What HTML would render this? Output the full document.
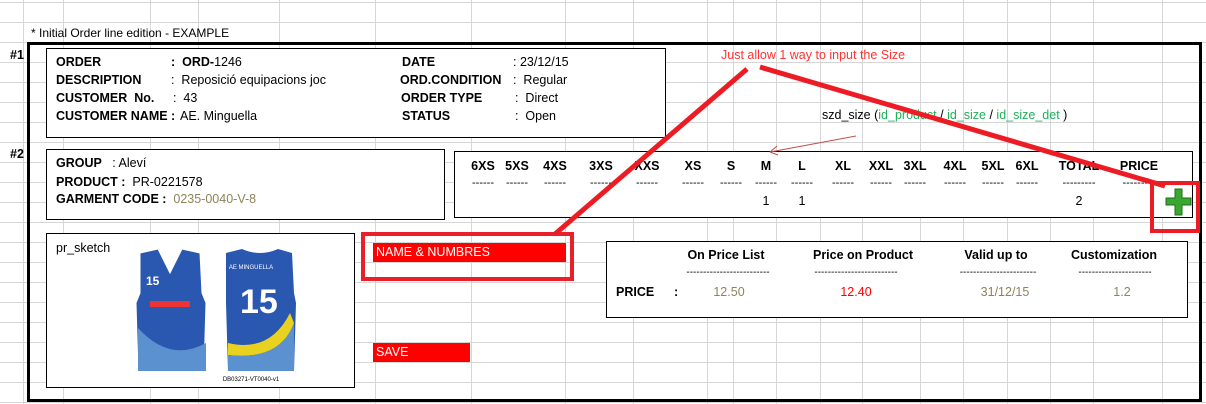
<!DOCTYPE html>
<html><head><meta charset="utf-8"><style>
body{margin:0;width:1206px;height:404px;overflow:hidden;background:#fff;font-family:"Liberation Sans",sans-serif;font-size:12.5px;color:#000}
.t{position:absolute;white-space:nowrap;line-height:14px}
.b{font-weight:bold}
.c{transform:translateX(-50%)}
.box{position:absolute;border:1px solid #000;background:#fff}
.ol{color:#8b8559}
</style></head><body>
<svg width="1206" height="404" style="position:absolute;left:0;top:0">
<g stroke="#d6d6d6" stroke-width="1" id="grid"></g>
</svg>
<script>
var g=document.getElementById('grid');
var cols=[23,63,150,198,279,375,471,565,633,707,733,776,820,862,920,963,1007,1050,1093,1162];
var s='';
cols.forEach(function(x){s+='<line x1="'+(x+.5)+'" y1="0" x2="'+(x+.5)+'" y2="404"/>';});
for(var y=2;y<404;y+=20){s+='<line x1="0" y1="'+(y+.5)+'" x2="1206" y2="'+(y+.5)+'"/>';}
g.innerHTML=s;
</script>
<div class="t" style="left:31px;top:26px;font-size:12px">* Initial Order line edition - EXAMPLE</div>
<div style="position:absolute;left:27px;top:42px;width:1169px;height:354px;border:3px solid #000"></div>
<div class="t b" style="left:10px;top:48px">#1</div>
<div class="t b" style="left:10px;top:147px">#2</div>

<div class="box" style="left:46px;top:48px;width:618px;height:88px"></div>
<div class="t b" style="left:56px;top:55px">ORDER</div>
<div class="t" style="left:171px;top:55px"><b>: &nbsp;ORD-</b>1246</div>
<div class="t b" style="left:56px;top:73px">DESCRIPTION</div>
<div class="t" style="left:171px;top:73px">: &nbsp;Reposició equipacions joc</div>
<div class="t b" style="left:56px;top:91px">CUSTOMER &nbsp;No.</div>
<div class="t" style="left:173px;top:91px">: &nbsp;43</div>
<div class="t b" style="left:56px;top:109px">CUSTOMER NAME :</div>
<div class="t" style="left:180px;top:109px">AE. Minguella</div>
<div class="t b" style="left:402px;top:55px">DATE</div>
<div class="t" style="left:513px;top:55px">: 23/12/15</div>
<div class="t b" style="left:400px;top:73px">ORD.CONDITION</div>
<div class="t" style="left:513px;top:73px">: &nbsp;Regular</div>
<div class="t b" style="left:401px;top:91px">ORDER TYPE</div>
<div class="t" style="left:515px;top:91px">: &nbsp;Direct</div>
<div class="t b" style="left:402px;top:109px">STATUS</div>
<div class="t" style="left:515px;top:109px">: &nbsp;Open</div>

<div class="box" style="left:46px;top:149px;width:397px;height:69px"></div>
<div class="t" style="left:56px;top:156px"><b>GROUP</b> &nbsp;&nbsp;: Aleví</div>
<div class="t" style="left:56px;top:175px"><b>PRODUCT :</b> &nbsp;PR-0221578</div>
<div class="t" style="left:56px;top:192px"><b>GARMENT CODE :</b> &nbsp;<span class="ol">0235-0040-V-8</span></div>

<div class="box" style="left:454px;top:151px;width:737px;height:65px"></div>
<div id="sizes"></div>
<script>
var sizeNames=['6XS','5XS','4XS','3XS','XXS','XS','S','M','L','XL','XXL','3XL','4XL','5XL','6XL','TOTAL','PRICE'];
var sizeQty=['','','','','','','','1','1','','','','','','','2',''];
var sizeX=[483,517,555,601,647,693,731,766,802,843,881,915,955,993,1027,1079,1139];
var sc=document.getElementById('sizes');
sizeNames.forEach(function(n,i){
 var h=document.createElement('div');h.className='t b c';h.style.left=sizeX[i]+'px';h.style.top='159px';h.textContent=n;
 
 
 sc.appendChild(h);
 var d=document.createElement('div');d.className='t c';d.style.left=sizeX[i]+'px';d.style.top='176px';d.style.fontSize='11px';d.textContent=i>=15?'---------':'------';
 
 
 sc.appendChild(d);
 if(sizeQty[i]){var q=document.createElement('div');q.className='t c';q.style.left=sizeX[i]+'px';q.style.top='194px';q.textContent=sizeQty[i];
 
 
 sc.appendChild(q);}
});
</script>

<div class="box" style="left:46px;top:233px;width:307px;height:153px"></div>
<div class="t" style="left:56px;top:241px">pr_sketch</div>
<svg width="180" height="140" style="position:absolute;left:130px;top:243px">
<path d="M10 10 L28 6 L40 30 L52 6 L70 10 L72 50 L76 60 L74 128 L8 128 L6 60 L10 50Z" fill="#2a57b0" stroke="#fff"/>
<path d="M8 85 Q40 120 76 100 L76 128 L8 128Z" fill="#5b91cf"/>
<text x="16" y="42" fill="#fff" font-size="12" font-weight="bold" font-family="Liberation Sans">15</text>
<rect x="20" y="58" width="40" height="6" fill="#e33"/>
<path d="M96 10 L112 6 Q130 14 148 6 L162 10 L164 50 L166 60 L164 128 L98 128 L96 60Z" fill="#2a57b0"/>
<path d="M98 100 Q140 110 160 70 L164 80 Q150 118 98 112Z" fill="#e8d21f"/>
<path d="M98 112 Q150 118 164 80 L164 128 L98 128Z" fill="#5b91cf"/>
<text x="110" y="70" fill="#fff" font-size="34" font-weight="bold" font-family="Liberation Sans">15</text>
<text x="121" y="26" fill="#fff" font-size="6" font-family="Liberation Sans" text-anchor="middle">AE MINGUELLA</text>
<text x="121" y="138" fill="#000" font-size="6" font-family="Liberation Sans" text-anchor="middle">DB03271-VT0040-v1</text>
</svg>

<div style="position:absolute;left:361px;top:232px;width:205px;height:41px;border:4px solid #e8202a"></div>
<div class="t" style="left:373px;top:243px;width:193px;height:19px;background:#ff0000;color:#fff;line-height:19px;padding-left:3px;box-sizing:border-box">NAME &amp; NUMBRES</div>
<div class="t" style="left:373px;top:343px;width:97px;height:19px;background:#ff0000;color:#fff;line-height:19px;padding-left:3px;box-sizing:border-box">SAVE</div>

<div class="box" style="left:606px;top:241px;width:580px;height:75px"></div>
<div class="t b c" style="left:726px;top:248px">On Price List</div>
<div class="t b c" style="left:863px;top:248px">Price on Product</div>
<div class="t b c" style="left:996px;top:248px">Valid up to</div>
<div class="t b c" style="left:1114px;top:248px">Customization</div>
<div class="t c" style="left:728px;top:266px;font-size:10px">-------------------------</div>
<div class="t c" style="left:856px;top:266px;font-size:10px">-------------------------</div>
<div class="t c" style="left:998px;top:266px;font-size:10px">-----------------------</div>
<div class="t c" style="left:1115px;top:266px;font-size:10px">----------------------</div>
<div class="t b" style="left:616px;top:285px">PRICE</div>
<div class="t b" style="left:674px;top:285px">:</div>
<div class="t ol c" style="left:729px;top:285px">12.50</div>
<div class="t c" style="left:856px;top:285px;color:#f00">12.40</div>
<div class="t ol c" style="left:1005px;top:285px">31/12/15</div>
<div class="t ol c" style="left:1122px;top:285px">1.2</div>

<div class="t" style="left:721px;top:48px;color:#f33;font-size:12.5px">Just allow 1 way to input the Size</div>
<div class="t" style="left:822px;top:108px;font-size:12.5px">szd_size (<span style="color:#1fb05a">id_product</span> / <span style="color:#1fb05a">id_size</span> / <span style="color:#1fb05a">id_size_det</span> )</div>

<svg width="1206" height="404" style="position:absolute;left:0;top:0">
<line x1="747" y1="69" x2="555" y2="234" stroke="#ed1c24" stroke-width="5"/>
<line x1="760" y1="67" x2="1165" y2="186" stroke="#ed1c24" stroke-width="5"/>
<line x1="856" y1="136" x2="770" y2="152" stroke="#c0504d" stroke-width="1"/>
<path d="M770 152 L777 146 M770 152 L778 155" stroke="#c0504d" stroke-width="1" fill="none"/>
<rect x="1152" y="183" width="46" height="48" fill="none" stroke="#ed1c24" stroke-width="4"/>
<g>
<path d="M1175 189 h7 v9 h9 v7 h-9 v10 h-7 v-10 h-9 v-7 h9z" fill="#3aa72e" stroke="#1f6e19" stroke-width="1"/>
</g>
</svg>
</body></html>
